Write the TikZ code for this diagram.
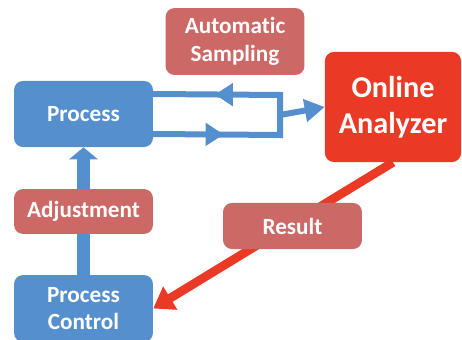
\documentclass[tikz,border=0pt]{standalone}
\usepackage{fontspec}
\setmainfont{Carlito}[Ligatures=NoCommon]
\usetikzlibrary{arrows.meta,positioning,calc,decorations.markings}
\definecolor{procblue}{RGB}{86,143,206}
\definecolor{labelpink}{RGB}{204,104,102}
\definecolor{analyzerred}{RGB}{234,58,37}

\begin{document}
\begin{tikzpicture}[
    x=0.025cm, y=-0.025cm,
    box/.style={rectangle, rounded corners=0.22cm, minimum width=3.47cm, align=center, text=white, font=\fontsize{16.5}{19.5}\selectfont\bfseries},
    bluebox/.style={box, fill=procblue},
    pinkbox/.style={box, fill=labelpink},
    flow/.style={draw=procblue, line width=0.15cm, line join=miter},
    loopflow/.style={flow, postaction={decorate}, decoration={markings,
        mark=at position 0.24 with {\arrow[procblue]{Triangle[length=0.45cm, width=0.55cm]}},
        mark=at position 0.79 with {\arrow[procblue]{Triangle[length=0.45cm, width=0.55cm]}}}}
]
    \useasboundingbox (0,0) rectangle (462,340);

    \node[bluebox, minimum height=1.65cm] (process) at (83.5,114) {Process};
    \node[pinkbox, minimum height=1.67cm] (sampling) at (235,41.5) {Automatic\\Sampling};
    \node[box, fill=analyzerred, minimum width=3.4cm, minimum height=2.75cm,
        font=\fontsize{21.5}{25.5}\selectfont\bfseries] (analyzer) at (393,107) {Online\\Analyzer};
    \node[pinkbox, minimum height=1.12cm] (adjust) at (83.5,211.5) {Adjustment};
    \node[bluebox, minimum height=1.67cm] (control) at (83.5,308.5) {Process\\Control};

    % sampling loop
    \coordinate (loopTR) at (280,95);
    \coordinate (loopBR) at (280,135);
    \draw[loopflow] ([yshift=-0.5cm]process.east) -- (loopBR) -- (loopTR) -- ([yshift=0.5cm]process.east);
    \draw[flow, -{Triangle[length=0.5cm, width=0.55cm]}] ($(loopTR)!0.5!(loopBR)$) -- (analyzer.west);

    % adjustment path
    \draw[draw=procblue, line width=0.33cm] (control) -- (adjust);
    \draw[draw=procblue, line width=0.33cm, -{Triangle[length=0.3cm, width=0.7cm]}] (adjust) -- (process);

    % result back to control
    \draw[draw=analyzerred, line width=0.22cm, -{Triangle[length=0.5cm, width=0.65cm]}] (analyzer.south) -- (control.east);
    \node[pinkbox, minimum height=1.15cm] (result) at (292.5,226) {Result};
\end{tikzpicture}
\end{document}
